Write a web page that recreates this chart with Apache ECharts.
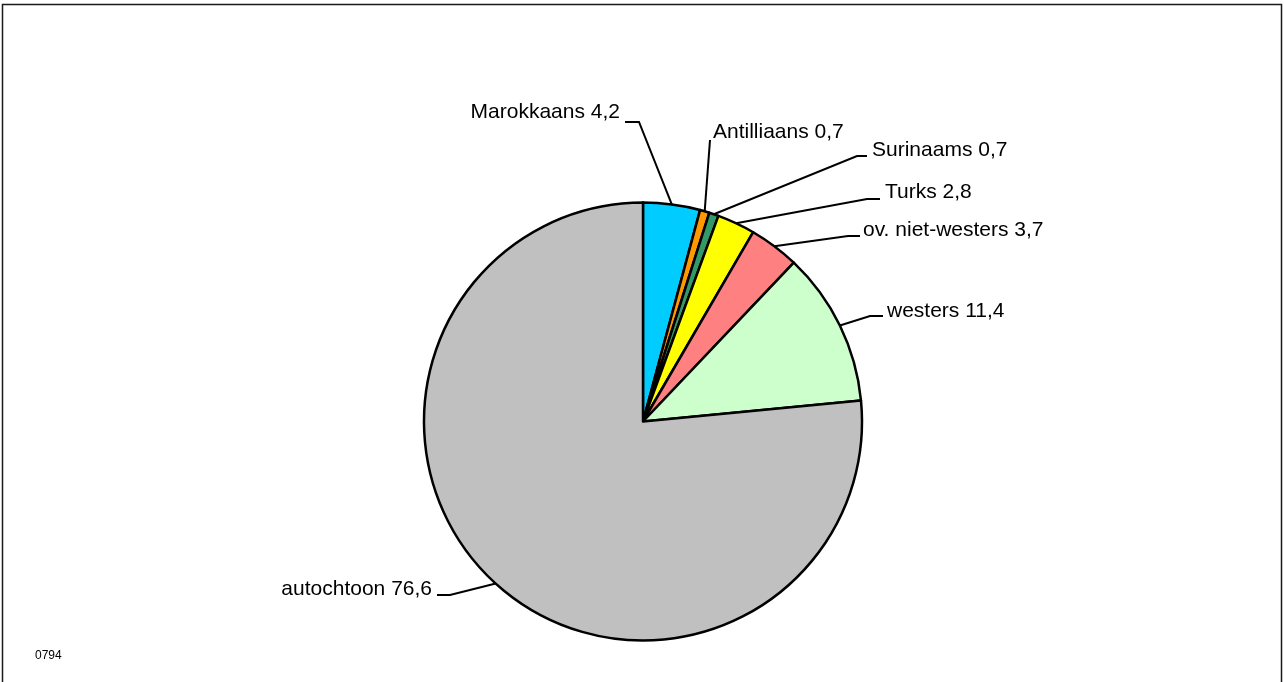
<!DOCTYPE html>
<html>
<head>
<meta charset="utf-8">
<script src="https://cdn.jsdelivr.net/npm/echarts@6/dist/echarts.min.js"></script>
<style>
html,body{margin:0;padding:0;background:#fff;}
#chart{width:1284px;height:682px;}
</style>
</head>
<body>
<div id="chart"></div>
<script>
// Data
var categories = ['Marokkaans', 'Antilliaans', 'Surinaams', 'Turks', 'ov. niet-westers', 'westers', 'autochtoon'];
var values = [4.2, 0.7, 0.7, 2.8, 3.7, 11.4, 76.6];
var colors = ['#00CCFF', '#FF9900', '#339966', '#FFFF00', '#FF8080', '#CCFFCC', '#C0C0C0'];
var footnote = '0794';

// Label layout (anchor x, y, alignment, elbow points of leader line)
var labelPos = [
  {x: 620, y: 112.5, align: 'right', elbow: [[639, 122], [625, 122]]},
  {x: 713, y: 132, align: 'left', elbow: [[710, 140]]},
  {x: 872, y: 150, align: 'left', elbow: [[857, 156], [867, 156]]},
  {x: 885, y: 192, align: 'left', elbow: [[867, 199], [880, 199]]},
  {x: 863, y: 230.5, align: 'left', elbow: [[848, 236], [860, 236]]},
  {x: 887, y: 311, align: 'left', elbow: [[870, 316], [883, 316]]},
  {x: 432, y: 589, align: 'right', elbow: [[450, 595], [437, 595]]}
];

var pieData = categories.map(function (c, i) {
  return {name: c, value: values[i], itemStyle: {color: colors[i]}};
});

var chart = echarts.init(document.getElementById('chart'));
chart.setOption({
  animation: false,
  backgroundColor: '#fff',
  graphic: [
    {type: 'rect', shape: {x: 2.5, y: 4.5, width: 1279, height: 700},
     style: {fill: 'none', stroke: '#1a1a1a', lineWidth: 1.5}, silent: true},
    {type: 'text', left: 35, top: 650,
     style: {text: footnote, font: '12px "Liberation Sans", Arial, sans-serif', fill: '#000'}}
  ],
  series: [{
    type: 'pie',
    center: [643, 421.5],
    radius: 219,
    startAngle: 90,
    clockwise: true,
    avoidLabelOverlap: false,
    data: pieData,
    itemStyle: {borderColor: '#000', borderWidth: 2.5},
    emphasis: {disabled: true},
    label: {
      show: true,
      formatter: function (p) { return p.name + ' ' + String(p.value).replace('.', ','); },
      fontFamily: '"Liberation Sans", Arial, sans-serif',
      fontSize: 21,
      color: '#000'
    },
    labelLine: {show: true, length: 10, length2: 10, lineStyle: {color: '#000', width: 2}},
    labelLayout: function (params) {
      var lp = labelPos[params.dataIndex];
      var pts = [params.labelLinePoints[0]].concat(lp.elbow);
      return {
        x: lp.x, y: lp.y, align: lp.align, verticalAlign: 'middle',
        labelLinePoints: pts
      };
    }
  }]
});
</script>
</body>
</html>
